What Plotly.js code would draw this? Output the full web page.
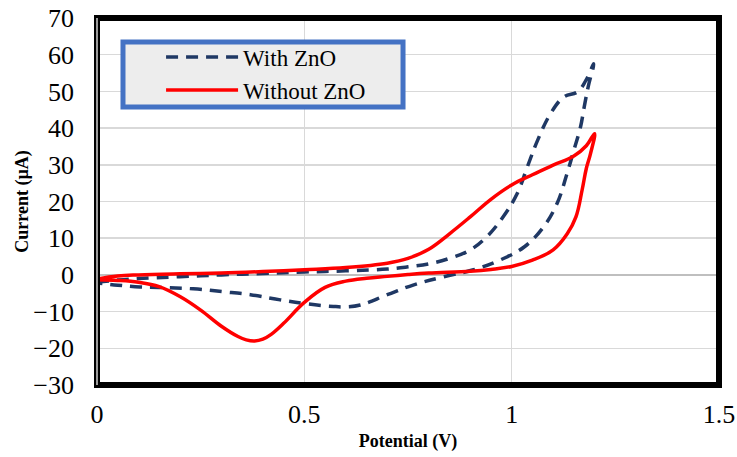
<!DOCTYPE html>
<html>
<head>
<meta charset="utf-8">
<script src="https://cdn.plot.ly/plotly-3.0.1.min.js"></script>
<style>html,body{margin:0;padding:0;background:#fff;}#chart{width:737px;height:457px;}</style>
</head>
<body>
<div id="chart"></div>
<script>
// With ZnO: forward scan then reverse scan
const withZnO_x = [0, 0.05, 0.1, 0.2, 0.3, 0.4, 0.5, 0.6, 0.7, 0.75, 0.8, 0.85, 0.9, 0.94, 0.98, 1.014, 1.038, 1.063, 1.094, 1.126, 1.159, 1.179, 1.198,
                   1.185, 1.175, 1.166, 1.15, 1.134, 1.11, 1.077, 1.03, 0.973, 0.908, 0.836, 0.764, 0.7, 0.635, 0.6, 0.57, 0.507, 0.442, 0.37, 0.305, 0.232, 0.15, 0.104, 0.05, 0];
const withZnO_y = [-2.0, -1.4, -1.0, -0.5, 0, 0.4, 0.8, 1.1, 1.6, 2.2, 3.0, 4.5, 6.8, 10.4, 15.9, 22.3, 29.5, 36.8, 44.0, 48.5, 49.9, 53.0, 57.5,
                   51.5, 45.8, 40.3, 34.0, 27.8, 19.6, 13.1, 7.6, 4.1, 1.4, -0.5, -2.7, -5.4, -8.2, -8.7, -8.6, -7.9, -6.8, -5.4, -4.6, -3.8, -3.4, -3.3, -2.8, -2.2];

// Without ZnO: forward scan then reverse scan
const withoutZnO_x = [0, 0.05, 0.1, 0.2, 0.3, 0.4, 0.5, 0.6, 0.7, 0.75, 0.8, 0.85, 0.9, 0.95, 1.0, 1.05, 1.1, 1.15, 1.18, 1.2,
                      1.19, 1.18, 1.17, 1.155, 1.134, 1.1, 1.05, 1.0, 0.95, 0.9, 0.8, 0.75, 0.7, 0.65, 0.6, 0.55, 0.5, 0.45, 0.42, 0.4, 0.38, 0.36, 0.34, 0.3, 0.25, 0.2, 0.15, 0.1, 0.05, 0];
const withoutZnO_y = [-1.1, -0.3, 0.0, 0.3, 0.5, 0.9, 1.4, 2.0, 3.2, 4.5, 7.0, 11.2, 15.8, 20.6, 24.5, 27.3, 29.9, 32.4, 35.2, 38.5,
                      33.0, 29.0, 23.2, 15.8, 11.2, 6.8, 4.0, 2.3, 1.5, 1.0, 0.5, 0.1, -0.4, -0.9, -1.7, -3.4, -7.5, -13.2, -16.2, -17.5, -18.0, -17.7, -16.8, -14.0, -9.6, -5.9, -3.2, -2.0, -1.5, -1.3];

const seriesNames = ['With ZnO', 'Without ZnO'];
const xTicks = [0, 0.5, 1, 1.5];
const xTickText = ['0', '0.5', '1', '1.5'];
const yTicks = [-30, -20, -10, 0, 10, 20, 30, 40, 50, 60, 70];

const serif = 'Liberation Serif, Times New Roman, serif';

const traces = [
  {x: withZnO_x, y: withZnO_y, name: seriesNames[0], mode: 'lines', type: 'scatter',
   line: {color: '#1F3864', width: 3.5, dash: '12px,8px', shape: 'spline', smoothing: 1.1}},
  {x: withoutZnO_x, y: withoutZnO_y, name: seriesNames[1], mode: 'lines', type: 'scatter',
   line: {color: '#FF0000', width: 3.5, shape: 'spline', smoothing: 1.1}}
];

const layout = {
  width: 737, height: 457,
  font: {family: serif, color: '#000'},
  margin: {l: 97, r: 18, t: 18, b: 72},
  paper_bgcolor: '#ffffff', plot_bgcolor: '#ffffff',
  showlegend: true,
  legend: {
    x: 0.103, y: 0.952, xanchor: 'left', yanchor: 'top',
    bgcolor: 'rgba(0,0,0,0)', borderwidth: 0,
    font: {family: serif, size: 23, color: '#000'},
    itemwidth: 72, tracegroupgap: 0
  },
  xaxis: {
    range: [0, 1.5], tickvals: xTicks, ticktext: xTickText,
    showgrid: true, gridcolor: '#D9D9D9', gridwidth: 1.5,
    zeroline: false, showline: false, ticks: '',
    ticklabelstandoff: 11,
    tickfont: {family: serif, size: 26, color: '#000'},
    title: {text: 'Potential (V)', font: {family: serif, size: 18, color: '#000', weight: 'bold'}, standoff: 6}
  },
  yaxis: {
    range: [-30, 70], tickvals: yTicks,
    showgrid: true, gridcolor: '#D9D9D9', gridwidth: 1.5,
    zeroline: true, zerolinecolor: '#BFBFBF', zerolinewidth: 2,
    showline: false, ticks: '',
    ticklabelstandoff: 22,
    tickfont: {family: serif, size: 26, color: '#000'},
    title: {text: 'Current (µA)', font: {family: serif, size: 18, color: '#000', weight: 'bold'}, standoff: 0}
  },
  shapes: [
    {type: 'rect', xref: 'paper', yref: 'paper', x0: 0.0418, x1: 0.492, y0: 0.7575, y1: 0.9346,
     line: {color: '#4472C4', width: 5}, fillcolor: '#EDEDED', layer: 'above'},
    {type: 'rect', xref: 'paper', yref: 'paper', x0: 0, x1: 1, y0: 0, y1: 1,
     line: {color: '#000', width: 6}, fillcolor: 'rgba(0,0,0,0)'},
    {type: 'line', xref: 'paper', yref: 'paper', x0: 0, x1: 0, y0: 0, y1: 1,
     line: {color: '#9a9a9a', width: 2}}
  ]
};

Plotly.newPlot('chart', traces, layout, {staticPlot: true, displayModeBar: false});
</script>
</body>
</html>
